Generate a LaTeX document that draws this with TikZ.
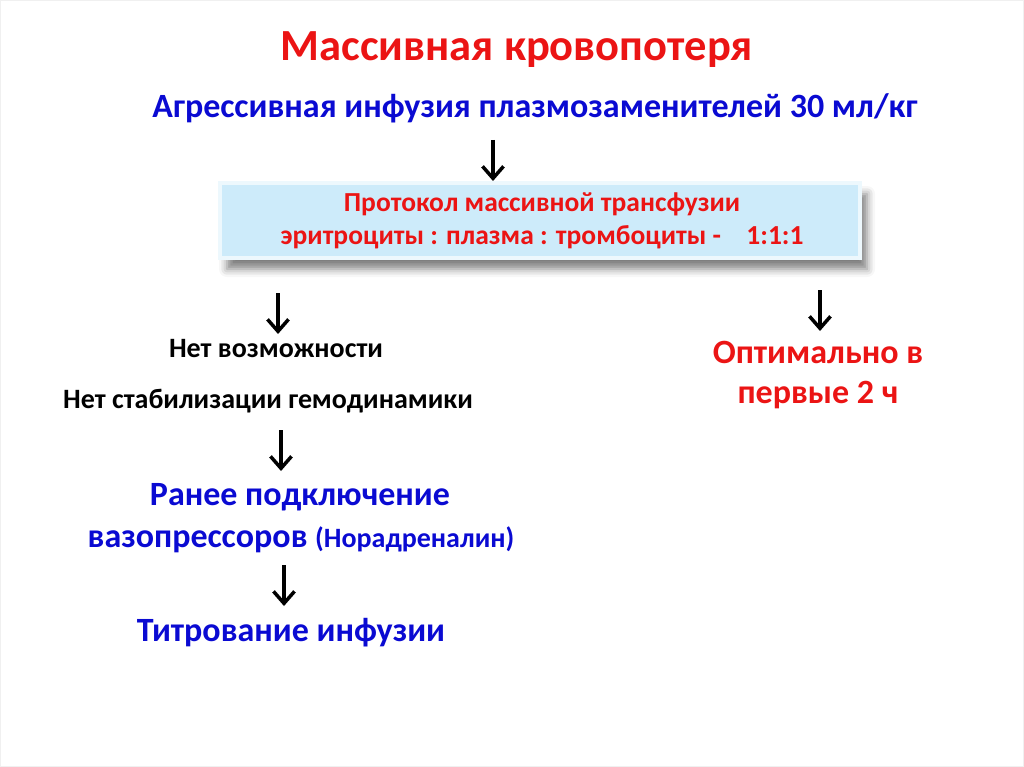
\documentclass[tikz,border=0pt]{standalone}
\usepackage{fontspec}
\setmainfont{Carlito}
\usetikzlibrary{arrows.meta,shadows.blur}
\definecolor{tred}{RGB}{235,20,20}
\definecolor{tblue}{RGB}{10,10,210}
\definecolor{boxblue}{RGB}{205,235,250}
\tikzset{
  txt/.style={inner sep=0pt, font=\bfseries, align=center, anchor=center},
  arr/.style={line width=3.5pt, -{Straight Barb[length=12pt,width=21pt,line width=3.5pt]}},
}
\begin{document}
\begin{tikzpicture}[x=1pt,y=-1pt]
\useasboundingbox (0,0) rectangle (1024,767);
\draw[gray!12, line width=1pt] (0.5,0.5) rectangle (1023.5,766.5);
% title
\node[txt, text=tred, font=\bfseries\fontsize{44.5}{48}\selectfont] (title) at (517,50) {Массивная кровопотеря};
\node[txt, text=tblue, font=\bfseries\fontsize{34}{38}\selectfont] (infuse) at (535,108) {Агрессивная инфузия плазмозаменителей 30 мл/кг};
% box
\node[draw=white!65!boxblue, line width=4pt, fill=boxblue, minimum width=640pt, minimum height=75pt,
  blur shadow={shadow xshift=7pt, shadow yshift=-11pt, shadow blur radius=8pt, shadow opacity=50},
  inner sep=0pt] (box) at (540,220.5) {};
\node[txt, text=tred, font=\bfseries\fontsize{27.5}{33}\selectfont] (boxtxt) at (542,221) {Протокол массивной трансфузии\\эритроциты : плазма : тромбоциты -\hspace{0.7em} 1:1:1};
\coordinate (a1s) at (493,140);
\coordinate (a1e) at (493,181);
\draw[arr] (a1s) -- (a1e);
% left branch
\coordinate (a2s) at (278,293);
\coordinate (a2e) at (278,334);
\draw[arr] (a2s) -- (a2e);
\node[txt, font=\bfseries\fontsize{28}{32}\selectfont] (nv) at (276,349) {Нет возможности};
\node[txt, font=\bfseries\fontsize{28}{32}\selectfont] (ns) at (268,401) {Нет стабилизации гемодинамики};
\coordinate (a3s) at (281,430);
\coordinate (a3e) at (281,471);
\draw[arr] (a3s) -- (a3e);
\node[txt, text=tblue, font=\bfseries\fontsize{34}{38}\selectfont] (rp) at (300,497) {Ранее подключение};
\node[txt, text=tblue, font=\bfseries\fontsize{34}{38}\selectfont] (vz) at (301,540) {вазопрессоров {\fontsize{28}{32}\selectfont(Норадреналин)}};
\coordinate (a4s) at (284,565);
\coordinate (a4e) at (284,606);
\draw[arr] (a4s) -- (a4e);
\node[txt, text=tblue, font=\bfseries\fontsize{34}{38}\selectfont] (ti) at (291,633) {Титрование инфузии};
% right branch
\coordinate (a5s) at (820,290);
\coordinate (a5e) at (820,331);
\draw[arr] (a5s) -- (a5e);
\node[txt, text=tred, font=\bfseries\fontsize{34}{40}\selectfont] (opt) at (818,375) {Оптимально в\\первые 2 ч};
\end{tikzpicture}
\end{document}
